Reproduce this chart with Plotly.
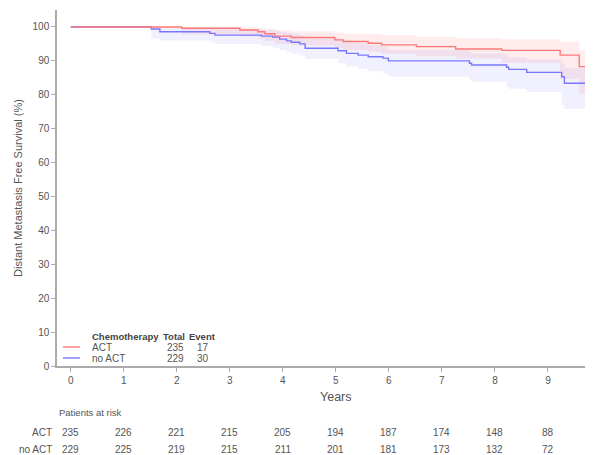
import plotly.graph_objects as go

# ---------------- data ----------------
END_T = 9.9
act_t  = [0, 2.09, 3.19, 3.53, 3.66, 3.85, 4.16, 4.98, 5.14, 5.61, 5.86, 6.52, 7.26, 8.13, 9.23, 9.59, END_T]
act_s  = [100, 99.6, 99.1, 98.6, 98.0, 97.3, 96.9, 96.2, 95.7, 95.2, 94.7, 94.2, 93.5, 93.1, 91.7, 88.3, 88.3]
act_lo = [100, 97.8, 97.2, 96.5, 95.8, 95.0, 94.6, 93.8, 93.2, 92.6, 92.0, 91.4, 90.7, 89.4, 84.7, 80.4, 80.4]
act_hi = [100, 100, 99.9, 99.7, 99.4, 99.0, 98.7, 98.3, 98.1, 97.9, 97.6, 97.1, 96.7, 96.4, 95.6, 93.2, 93.2]

noact_t  = [0, 1.52, 1.68, 2.62, 2.72, 3.60, 3.81, 3.94, 4.07, 4.16, 4.32, 4.42, 5.04, 5.20, 5.42, 5.61, 5.89, 5.99, 7.52, 7.56, 8.22, 8.26, 8.60, 9.26, 9.31, END_T]
noact_s  = [100, 99.4, 98.6, 98.1, 97.6, 97.3, 97.0, 96.4, 95.9, 95.5, 95.0, 93.7, 93.0, 92.2, 91.7, 91.2, 90.8, 90.0, 89.3, 88.8, 88.1, 87.5, 86.6, 85.3, 83.4, 83.4]
noact_lo = [100, 96.6, 96.0, 95.4, 95.0, 94.4, 93.9, 93.2, 92.6, 92.2, 91.6, 90.6, 89.3, 88.3, 87.6, 86.9, 86.2, 85.3, 84.4, 83.9, 82.3, 81.8, 80.8, 77.0, 75.9, 75.9]
noact_hi = [100, 100, 99.9, 99.6, 99.4, 99.2, 99.0, 98.6, 98.3, 98.0, 97.6, 96.8, 96.1, 95.5, 95.1, 94.6, 94.2, 93.3, 92.6, 92.2, 91.6, 91.1, 90.4, 89.3, 87.9, 87.9]

groups = ["ACT", "no ACT"]
totals = [235, 229]
events = [17, 30]

risk_times = [0, 1, 2, 3, 4, 5, 6, 7, 8, 9]
act_risk   = [235, 226, 221, 215, 205, 194, 187, 174, 148, 88]
noact_risk = [229, 225, 219, 215, 211, 201, 181, 173, 132, 72]

y_ticks = list(range(0, 101, 10))
x_ticks = list(range(0, 10))

# ---------------- styles ----------------
RED = "rgb(255,120,120)"
BLUE = "rgb(120,120,255)"
RED_BAND = "rgba(255,0,0,0.07)"
BLUE_BAND = "rgba(0,0,255,0.06)"
TXT = "#555555"
FONT = "Liberation Sans, Arial, sans-serif"

fig = go.Figure()

def add_band(t, lo, hi, color):
    fig.add_trace(go.Scatter(x=t, y=lo, mode="lines", line=dict(width=0, shape="hv"),
                             hoverinfo="skip", showlegend=False))
    fig.add_trace(go.Scatter(x=t, y=hi, mode="lines", line=dict(width=0, shape="hv"),
                             fill="tonexty", fillcolor=color, hoverinfo="skip", showlegend=False))

add_band(noact_t, noact_lo, noact_hi, BLUE_BAND)
add_band(act_t, act_lo, act_hi, RED_BAND)

fig.add_trace(go.Scatter(x=noact_t, y=noact_s, mode="lines", name="no ACT",
                         line=dict(color=BLUE, width=1.4, shape="hv"), showlegend=False))
fig.add_trace(go.Scatter(x=act_t, y=act_s, mode="lines", name="ACT",
                         line=dict(color=RED, width=1.4, shape="hv"), showlegend=False))

# page has an 8px body margin: figure is sized to fill the rest of the window
OFF = 8
W, H = 593 - OFF, 455 - OFF
L, R, T, B = 57 - OFF, 0, 10 - OFF, 89
PH = H - T - B
PW = W - L - R

def py(pix_y):
    return (H - B - (pix_y - OFF)) / PH

def px(pix_x):
    return (pix_x - OFF - L) / PW

ann = []
hdr_font = dict(size=9.5, color="#444", family=FONT)
ann.append(dict(x=px(90), y=py(336), xref="paper", yref="paper", xanchor="left", yanchor="middle",
                text="<b>Chemotherapy</b>", showarrow=False, font=hdr_font))
ann.append(dict(x=px(161), y=py(336), xref="paper", yref="paper", xanchor="left", yanchor="middle",
                text="<b>Total</b>", showarrow=False, font=hdr_font))
ann.append(dict(x=px(187), y=py(336), xref="paper", yref="paper", xanchor="left", yanchor="middle",
                text="<b>Event</b>", showarrow=False, font=hdr_font))
row_y = [347, 358]
colors = [RED, BLUE]
shapes = []
for g, tot, ev, yy, c in zip(groups, totals, events, row_y, colors):
    ann.append(dict(x=px(90), y=py(yy), xref="paper", yref="paper", xanchor="left", yanchor="middle",
                    text=g, showarrow=False, font=dict(size=10, color=TXT, family=FONT)))
    ann.append(dict(x=px(165), y=py(yy), xref="paper", yref="paper", xanchor="left", yanchor="middle",
                    text=str(tot), showarrow=False, font=dict(size=10, color=TXT, family=FONT)))
    ann.append(dict(x=px(195), y=py(yy), xref="paper", yref="paper", xanchor="left", yanchor="middle",
                    text=str(ev), showarrow=False, font=dict(size=10, color=TXT, family=FONT)))
    shapes.append(dict(type="line", xref="paper", yref="paper", x0=px(63), x1=px(80),
                       y0=py(yy), y1=py(yy), line=dict(color=c, width=1.4)))

# axis titles
ann.append(dict(x=px(18), y=0.5, xref="paper", yref="paper", xanchor="center", yanchor="middle",
                text="Distant Metastasis Free Survival (%)", textangle=-90, showarrow=False,
                font=dict(size=11, color=TXT, family=FONT)))
ann.append(dict(x=5, y=py(397), xref="x", yref="paper", xanchor="center", yanchor="middle",
                text="Years", showarrow=False, font=dict(size=12.5, color=TXT, family=FONT)))

# risk table
ann.append(dict(x=px(57), y=py(412), xref="paper", yref="paper", xanchor="left", yanchor="middle",
                text="Patients at risk", showarrow=False, font=dict(size=9.5, color=TXT, family=FONT)))
for lab, vals, yy in [("ACT", act_risk, 432), ("no ACT", noact_risk, 449)]:
    ann.append(dict(x=px(54), y=py(yy), xref="paper", yref="paper", xanchor="right", yanchor="middle",
                    text=lab, showarrow=False, font=dict(size=10, color=TXT, family=FONT)))
    for t, v in zip(risk_times, vals):
        ann.append(dict(x=t, y=py(yy), xref="x", yref="paper", xanchor="center", yanchor="middle",
                        text=str(v), showarrow=False, font=dict(size=10, color=TXT, family=FONT)))

fig.update_layout(
    width=W, height=H,
    margin=dict(l=L, r=R, t=T, b=B, pad=0),
    paper_bgcolor="white", plot_bgcolor="white",
    font=dict(family=FONT, color=TXT, size=10),
    annotations=ann, shapes=shapes,
    xaxis=dict(range=[-0.26, 9.85], tickmode="array", tickvals=x_ticks, ticktext=[str(v) for v in x_ticks],
               showgrid=False, zeroline=False, showline=True, linecolor="#aaaaaa", linewidth=1.5,
               ticks="outside", ticklen=4, tickcolor="#aaaaaa", tickfont=dict(size=10, color=TXT)),
    yaxis=dict(range=[0, 105], tickmode="array", tickvals=y_ticks, ticktext=[str(v) for v in y_ticks],
               showgrid=False, zeroline=False, showline=True, linecolor="#aaaaaa", linewidth=1.5,
               ticks="outside", ticklen=4, tickcolor="#aaaaaa", tickfont=dict(size=10, color=TXT)),
)

fig.write_html("out.html")
